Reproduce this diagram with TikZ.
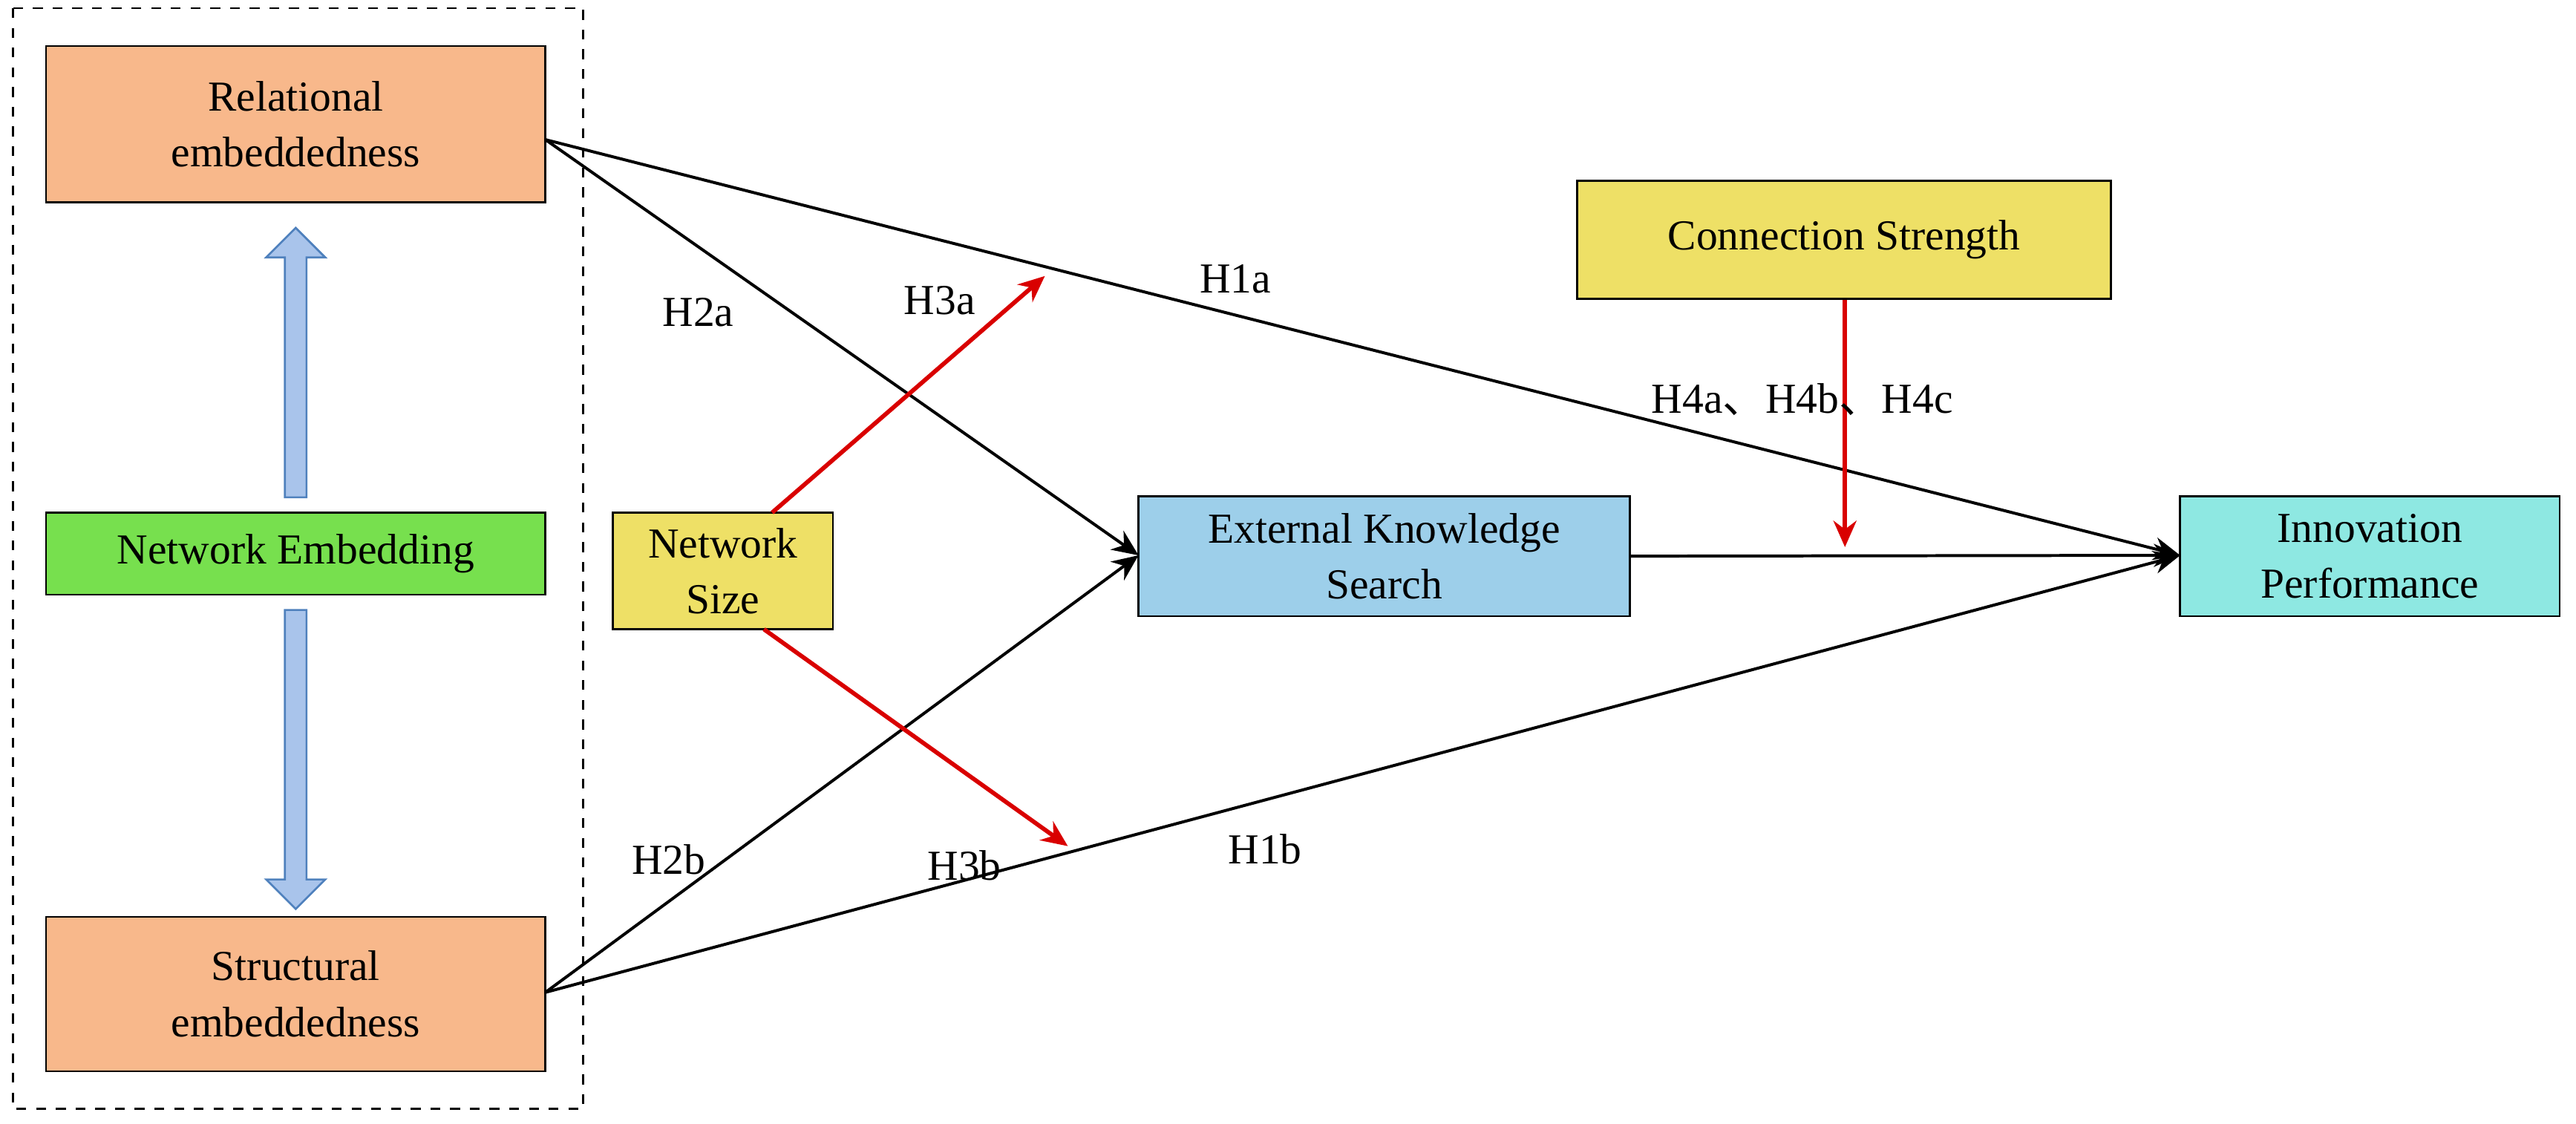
\documentclass[tikz,border=0pt]{standalone}
\usepackage{fontspec}
\setmainfont{Liberation Serif}
\newfontfamily\cjk{Noto Sans CJK SC}
\usetikzlibrary{arrows.meta,shapes.arrows}
\definecolor{orng}{HTML}{F8B88B}
\definecolor{grn}{HTML}{77E04E}
\definecolor{ylw}{HTML}{EEE066}
\definecolor{blu}{HTML}{9DCFEA}
\definecolor{cyn}{HTML}{8EE8E2}
\definecolor{arr}{HTML}{A9C4EB}
\definecolor{arrd}{HTML}{4F81BD}
\begin{document}
\begin{tikzpicture}[x=0.5pt,y=-0.5pt,
 box/.style={draw=black,line width=0.6pt,align=center,inner sep=0pt,font=\fontsize{13}{17}\selectfont},
 blk/.style={-{Stealth[length=8pt,width=7pt]},line width=0.9pt},
 red/.style={-{Stealth[length=8pt,width=7pt]},line width=1.3pt,draw=red!85!black},
 lab/.style={font=\fontsize{13}{15}\selectfont}]
\useasboundingbox (0,0) rectangle (1568,684);
\draw[dashed,line width=0.6pt] (8,5) rectangle (355,675);
\node[box,fill=orng,minimum width=152pt,minimum height=47.5pt] (rel) at (180,75.5) {Relational\\embeddedness};
\node[box,fill=grn,minimum width=152pt,minimum height=25pt] (ne) at (180,337) {Network Embedding};
\node[box,fill=orng,minimum width=152pt,minimum height=47pt] (str) at (180,605) {Structural\\embeddedness};
\node[box,fill=ylw,minimum width=67pt,minimum height=35.5pt] (ns) at (440,347.5) {Network\\Size};
\node[box,fill=blu,minimum width=149.5pt,minimum height=36.5pt] (eks) at (842.5,338.5) {External Knowledge\\Search};
\node[box,fill=ylw,minimum width=162.5pt,minimum height=36pt] (cs) at (1122.5,146) {Connection Strength};
\node[box,fill=cyn,minimum width=115.5pt,minimum height=36.5pt] (ip) at (1442.5,338.5) {Innovation\\Performance};
% block arrows
\node[single arrow,draw=arrd,fill=arr,shape border rotate=90,minimum width=18pt,single arrow head extend=4pt,minimum height=82pt,inner sep=2pt,line width=0.6pt] (ua) at (180,224) {};
\node[single arrow,draw=arrd,fill=arr,shape border rotate=270,minimum width=18pt,single arrow head extend=4pt,minimum height=91pt,inner sep=2pt,line width=0.6pt] (da) at (180,459) {};
% connectors
\coordinate (rr) at (332,85);
\coordinate (sr) at (332,604);
\coordinate (eksl) at (693,338);
\coordinate (ipl) at (1327,338);
\draw[blk] (rr) -- (ipl);
\draw[blk] (rr) -- (eksl);
\draw[blk] (sr) -- (eksl);
\draw[blk] (sr) -- (ipl);
\draw[blk] (eks.east) -- (ipl);
\coordinate (h3a) at (636,168);
\coordinate (h3b) at (650,515);
\coordinate (csd) at (1123,333);
\draw[red] (470,312) -- (h3a);
\draw[red] (465,383) -- (h3b);
\draw[red] (cs.south -| csd) -- (csd);
% labels
\node[lab] at (425,190) {H2a};
\node[lab] at (572,183) {H3a};
\node[lab] at (752,170) {H1a};
\node[lab] at (1097,243) {H4a{\cjk 、}H4b{\cjk 、}H4c};
\node[lab] at (407,523) {H2b};
\node[lab] at (587,527) {H3b};
\node[lab] at (770,517) {H1b};
\end{tikzpicture}
\end{document}
